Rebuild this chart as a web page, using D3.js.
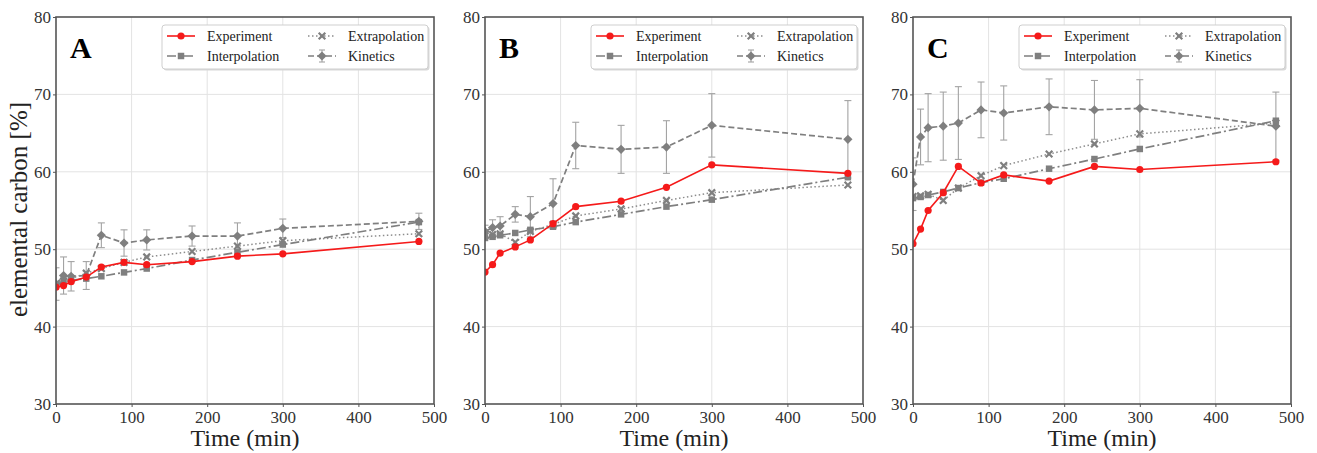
<!DOCTYPE html>
<html><head><meta charset="utf-8">
<script src="https://cdn.jsdelivr.net/npm/d3@7"></script>
<style>body{margin:0;background:#fff} text{font-family:"Liberation Serif","Times New Roman",serif}</style>
</head><body>
<svg id="chart" width="1317" height="453"></svg>
<script>
const times = [0, 10, 20, 40, 60, 90, 120, 180, 240, 300, 480];
const xTicks = [0, 100, 200, 300, 400, 500];
const yTicks = [30, 40, 50, 60, 70, 80];
const panelLabels = ["A", "B", "C"];
const seriesNames = ["Experiment", "Interpolation", "Extrapolation", "Kinetics"];

const experimentA   = [45.1, 45.3, 45.8, 46.4, 47.7, 48.3, 48.0, 48.4, 49.1, 49.4, 51.0];
const interpolationA= [45.5, 45.8, 46.0, 46.2, 46.5, 47.0, 47.5, 48.6, 49.6, 50.6, 53.5];
const extrapolationA= [45.5, 45.9, 46.2, 46.9, 47.5, 48.3, 49.0, 49.7, 50.4, 51.1, 52.0];
const kineticsA     = [45.5, 46.6, 46.5, 46.6, 51.8, 50.8, 51.2, 51.7, 51.7, 52.7, 53.6];
const kineticsErrA  = [2.1, 2.4, 1.9, 1.8, 1.6, 1.7, 1.3, 1.3, 1.7, 1.2, 1.05];

const experimentB   = [47.05, 48.0, 49.5, 50.3, 51.2, 53.3, 55.5, 56.2, 58.0, 60.9, 59.8];
const interpolationB= [51.45, 51.6, 51.8, 52.1, 52.5, 52.9, 53.5, 54.5, 55.5, 56.4, 59.3];
const extrapolationB= [51.7, 51.9, 52.0, 50.9, 52.3, 53.2, 54.3, 55.2, 56.3, 57.3, 58.3];
const kineticsB     = [52.3, 52.8, 53.0, 54.5, 54.2, 55.9, 63.4, 62.9, 63.2, 66.0, 64.2];
const kineticsErrB  = [0.8, 1.0, 1.2, 1.0, 2.6, 3.2, 3.0, 3.1, 3.4, 4.1, 5.0];

const experimentC   = [50.7, 52.6, 55.0, 57.3, 60.7, 58.55, 59.6, 58.8, 60.7, 60.3, 61.3];
const interpolationC= [56.6, 56.75, 57.0, 57.4, 57.9, 58.6, 59.1, 60.4, 61.65, 62.95, 66.6];
const extrapolationC= [56.8, 56.9, 57.1, 56.3, 57.9, 59.5, 60.8, 62.3, 63.6, 64.9, 66.3];
const kineticsC     = [58.4, 64.5, 65.7, 65.9, 66.3, 68.0, 67.6, 68.4, 68.0, 68.2, 65.9];
const kineticsErrC  = [3.4, 3.6, 4.4, 4.4, 4.7, 3.6, 3.5, 3.6, 3.8, 3.7, 4.4];

const panels = [
  {label: panelLabels[0], exp: experimentA, int: interpolationA, ext: extrapolationA, kin: kineticsA, err: kineticsErrA},
  {label: panelLabels[1], exp: experimentB, int: interpolationB, ext: extrapolationB, kin: kineticsB, err: kineticsErrB},
  {label: panelLabels[2], exp: experimentC, int: interpolationC, ext: extrapolationC, kin: kineticsC, err: kineticsErrC}
];

const svg = d3.select("#chart");
const lefts = [56, 485, 913];
const W = 378, plotTop = 17, plotBottom = 404;
const RED = "#f51a1a", GRAY = "#7f7f7f", ERR = "#a3a3a3";

const symSquare = d3.symbol().type(d3.symbolSquare).size(42);

function drawMarker(g, kind, x, y) {
  if (kind === "exp") {
    g.append("circle").attr("cx", x).attr("cy", y).attr("r", 3.6).attr("fill", RED);
  } else if (kind === "int") {
    g.append("path").attr("d", symSquare).attr("transform", `translate(${x},${y})`).attr("fill", GRAY);
  } else if (kind === "ext") {
    const s = 3.3;
    g.append("path").attr("d", `M${x-s},${y-s}L${x+s},${y+s}M${x-s},${y+s}L${x+s},${y-s}`)
      .attr("stroke", GRAY).attr("stroke-width", 2.2).attr("fill", "none");
  } else {
    const s = 4.6;
    g.append("path").attr("d", `M${x},${y-s}L${x+s},${y}L${x},${y+s}L${x-s},${y}Z`).attr("fill", GRAY);
  }
}
const styles = {
  exp: {stroke: RED, width: 1.6, dash: null},
  int: {stroke: GRAY, width: 1.7, dash: "9,3,2,3"},
  ext: {stroke: "#8c8c8c", width: 1.5, dash: "1.5,2.5"},
  kin: {stroke: GRAY, width: 1.7, dash: "6,3"}
};

panels.forEach((p, i) => {
  const L = lefts[i];
  const x = d3.scaleLinear().domain([0, 500]).range([L, L + W]);
  const y = d3.scaleLinear().domain([30, 80]).range([plotBottom, plotTop]);
  const g = svg.append("g");

  g.append("g").selectAll("line").data(xTicks.slice(1, -1)).join("line")
    .attr("x1", d => x(d)).attr("x2", d => x(d)).attr("y1", plotTop).attr("y2", plotBottom)
    .attr("stroke", "#e3e3e3").attr("stroke-width", 1);
  g.append("g").selectAll("line").data(yTicks.slice(1, -1)).join("line")
    .attr("y1", d => y(d)).attr("y2", d => y(d)).attr("x1", L).attr("x2", L + W)
    .attr("stroke", "#e3e3e3").attr("stroke-width", 1);

  const xa = g.append("g").attr("transform", `translate(0,${plotBottom})`)
    .call(d3.axisBottom(x).tickValues(xTicks).tickSize(3).tickPadding(2).tickFormat(d3.format("d")));
  const ya = g.append("g").attr("transform", `translate(${L},0)`)
    .call(d3.axisLeft(y).tickValues(yTicks).tickSize(3).tickPadding(2).tickFormat(d3.format("d")));
  [xa, ya].forEach(a => {
    a.attr("font-family", '"Liberation Serif",serif');
    a.select(".domain").remove();
    a.selectAll("line").attr("stroke", "#555");
    a.selectAll("text").attr("font-size", 17).attr("fill", "#333")
      .style("font-family", '"Liberation Serif",serif');
  });
  xa.selectAll("text").attr("dy", "0.85em");

  const cid = "clip" + i;
  svg.append("clipPath").attr("id", cid).append("rect")
    .attr("x", L).attr("y", plotTop).attr("width", W).attr("height", plotBottom - plotTop);
  const plot = g.append("g").attr("clip-path", `url(#${cid})`);

  const line = d3.line().x((d, j) => x(times[j])).y(d => y(d));

  const eb = plot.append("g").attr("stroke", ERR).attr("stroke-width", 1.1);
  p.kin.forEach((v, j) => {
    const cx = x(times[j]), y1 = y(v - p.err[j]), y2 = y(v + p.err[j]);
    eb.append("line").attr("x1", cx).attr("x2", cx).attr("y1", y1).attr("y2", y2);
    eb.append("line").attr("x1", cx - 3.5).attr("x2", cx + 3.5).attr("y1", y1).attr("y2", y1);
    eb.append("line").attr("x1", cx - 3.5).attr("x2", cx + 3.5).attr("y1", y2).attr("y2", y2);
  });

  ["kin", "ext", "int", "exp"].forEach(k => {
    const st = styles[k];
    plot.append("path").datum(p[k]).attr("d", line).attr("fill", "none")
      .attr("stroke", st.stroke).attr("stroke-width", st.width)
      .attr("stroke-dasharray", st.dash);
    const mg = plot.append("g");
    p[k].forEach((v, j) => drawMarker(mg, k, x(times[j]), y(v)));
  });

  g.append("rect").attr("x", L).attr("y", plotTop).attr("width", W).attr("height", plotBottom - plotTop)
    .attr("fill", "none").attr("stroke", "#555").attr("stroke-width", 1.6);

  g.append("text").attr("x", L + 14).attr("y", 58).text(p.label)
    .attr("font-size", 30).attr("font-weight", "bold").attr("fill", "#000");

  g.append("text").attr("x", L + W / 2).attr("y", 446).attr("text-anchor", "middle")
    .attr("font-size", 24).attr("fill", "#222").text("Time (min)");

  const lw = 266, lh = 44, lx = L + W - 6 - lw, ly = 25;
  const lg = g.append("g");
  lg.append("rect").attr("x", lx + 1.5).attr("y", ly + 1.5).attr("width", lw).attr("height", lh)
    .attr("rx", 3).attr("fill", "#d8d8d8");
  lg.append("rect").attr("x", lx).attr("y", ly).attr("width", lw).attr("height", lh)
    .attr("rx", 3).attr("fill", "#fff").attr("stroke", "#cfcfcf").attr("stroke-width", 1);
  const keys = ["exp", "int", "ext", "kin"];
  keys.forEach((k, j) => {
    const col = Math.floor(j / 2), row = j % 2;
    const hx = lx + 5 + col * 141, hy = ly + 11 + row * 20;
    const st = styles[k];
    if (k === "kin") {
      lg.append("line").attr("x1", hx + 14).attr("x2", hx + 14).attr("y1", hy - 6).attr("y2", hy + 6)
        .attr("stroke", ERR).attr("stroke-width", 1.1);
      [-6, 6].forEach(dy => lg.append("line").attr("x1", hx + 11).attr("x2", hx + 17)
        .attr("y1", hy + dy).attr("y2", hy + dy).attr("stroke", ERR).attr("stroke-width", 1.1));
    }
    lg.append("line").attr("x1", hx).attr("x2", hx + 28).attr("y1", hy).attr("y2", hy)
      .attr("stroke", st.stroke).attr("stroke-width", st.width).attr("stroke-dasharray", st.dash);
    drawMarker(lg, k, hx + 14, hy);
    lg.append("text").attr("x", hx + 40).attr("y", hy + 4.5).attr("font-size", 14)
      .attr("fill", "#222").text(seriesNames[j]);
  });
});

svg.append("text").attr("transform", `translate(27,${(plotTop + plotBottom) / 2 - 1}) rotate(-90)`)
  .attr("text-anchor", "middle").attr("font-size", 25).attr("fill", "#222")
  .text("elemental carbon [%]");
</script>
</body></html>
